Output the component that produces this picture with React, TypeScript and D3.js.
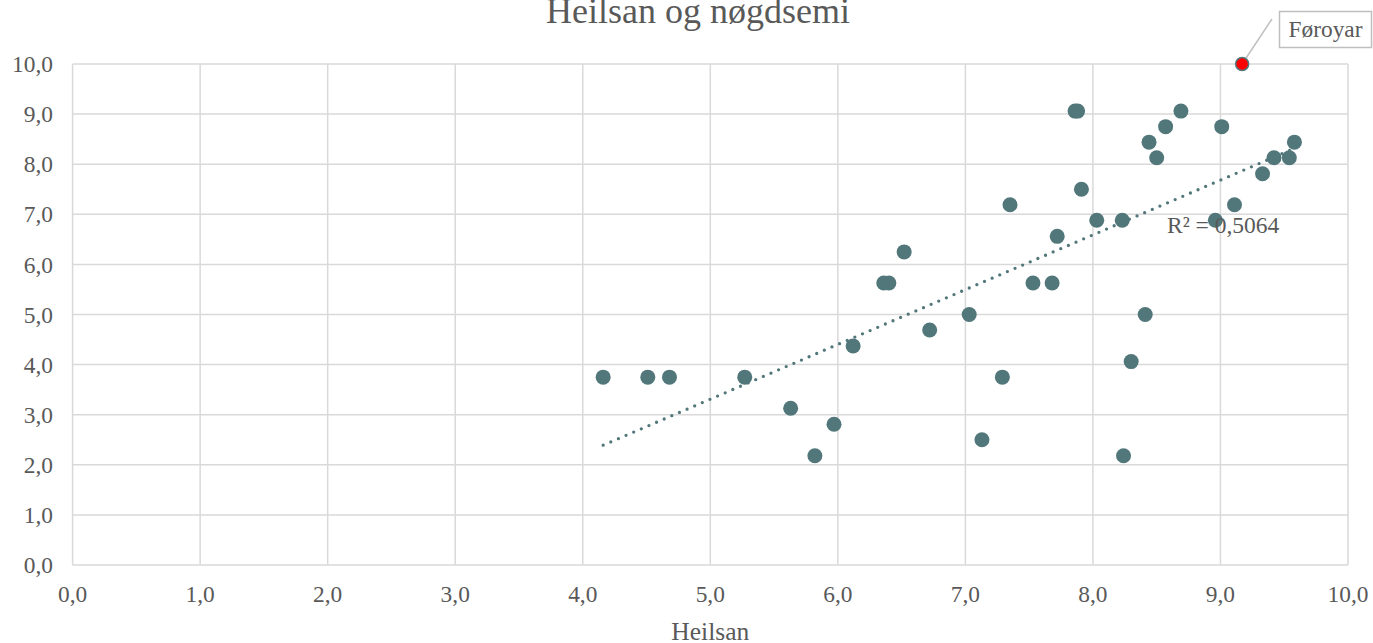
import React from "react";
import * as d3 from "d3";

const heilsan = [4.16, 4.51, 4.68, 5.27, 5.63, 5.82, 5.97, 6.12, 6.36, 6.40, 6.52, 6.72, 7.03, 7.13, 7.29, 7.35, 7.53, 7.68, 7.72, 7.86, 7.88, 7.91, 8.03, 8.23, 8.24, 8.30, 8.41, 8.44, 8.50, 8.57, 8.69, 9.01, 8.96, 9.11, 9.33, 9.42, 9.54, 9.58];
const nogdsemi = [3.75, 3.75, 3.75, 3.75, 3.13, 2.18, 2.81, 4.37, 5.63, 5.63, 6.25, 4.69, 5.0, 2.5, 3.75, 7.19, 5.63, 5.63, 6.56, 9.06, 9.06, 7.5, 6.88, 6.88, 2.18, 4.06, 5.0, 8.44, 8.13, 8.75, 9.06, 8.75, 6.88, 7.19, 7.81, 8.13, 8.13, 8.44];
const highlightName = "Føroyar";
const highlightX = [9.17];
const highlightY = [10.0];
const ticks = [0, 1, 2, 3, 4, 5, 6, 7, 8, 9, 10];
const title = "Heilsan og nøgdsemi";
const xTitle = "Heilsan";
const r2Label = "R² = 0,5064";

const W = 1373, H = 643;
const left = 72.6, right = 1348, top = 64, bottom = 565;
const font = "'Liberation Serif', 'Times New Roman', serif";
const textColor = "#595959";
const grid = "#D9D9D9";
const marker = "#52777A";

export default function App() {
  const x = d3.scaleLinear().domain([0, 10]).range([left, right]);
  const y = d3.scaleLinear().domain([0, 10]).range([bottom, top]);
  const fmt = (v: number) => v.toFixed(1).replace(".", ",");

  const allX = heilsan.concat(highlightX);
  const allY = nogdsemi.concat(highlightY);
  const n = allX.length;
  const mx = d3.mean(allX)!;
  const my = d3.mean(allY)!;
  let sxy = 0, sxx = 0;
  for (let i = 0; i < n; i++) {
    sxy += (allX[i] - mx) * (allY[i] - my);
    sxx += (allX[i] - mx) ** 2;
  }
  const slope = sxy / sxx;
  const icpt = my - slope * mx;
  const [x0, x1] = d3.extent(allX) as [number, number];
  const line = d3.line<number>().x((v) => x(v)).y((v) => y(icpt + slope * v));

  const hx = x(highlightX[0]);
  const hy = y(highlightY[0]);

  return (
    <svg width={W} height={H} style={{ position: "absolute", left: 0, top: 0, background: "#fff" }} fontFamily={font}>
      <rect x={0} y={0} width={W} height={H} fill="#fff" />
      <text x={698} y={23} textAnchor="middle" fontSize={36} fill={textColor}>{title}</text>
      {ticks.map((t) => (
        <g key={"g" + t}>
          <line x1={x(t)} x2={x(t)} y1={top} y2={bottom} stroke={grid} strokeWidth={1.5} />
          <line x1={left} x2={right} y1={y(t)} y2={y(t)} stroke={grid} strokeWidth={1.5} />
        </g>
      ))}
      {ticks.map((t) => (
        <text key={"yl" + t} x={53} y={y(t)} dy="0.35em" textAnchor="end" fontSize={23.4} fill={textColor}>{fmt(t)}</text>
      ))}
      {ticks.map((t) => (
        <text key={"xl" + t} x={x(t)} y={602} textAnchor="middle" fontSize={23.4} fill={textColor}>{fmt(t)}</text>
      ))}
      <text x={(left + right) / 2} y={640} textAnchor="middle" fontSize={25.5} fill={textColor}>{xTitle}</text>
      {heilsan.map((v, i) => (
        <circle key={"p" + i} cx={x(v)} cy={y(nogdsemi[i])} r={7.5} fill={marker} />
      ))}
      <path d={line([x0, x1]) || ""} fill="none" stroke={marker} strokeWidth={3.3} strokeLinecap="round" strokeDasharray="0 8.3" />
      <text x={1167} y={233} fontSize={23.5} fill={textColor}>{r2Label}</text>
      <line x1={hx} y1={hy} x2={1272} y2={19} stroke="#BFBFBF" strokeWidth={1.5} />
      <circle cx={hx} cy={hy} r={6.5} fill="#FF0000" stroke={marker} strokeWidth={1.5} />
      <rect x={1279.5} y={11.5} width={92} height={36} fill="#fff" stroke="#BFBFBF" strokeWidth={1.5} />
      <text x={1325.5} y={37} textAnchor="middle" fontSize={23.4} fill={textColor}>{highlightName}</text>
    </svg>
  );
}
